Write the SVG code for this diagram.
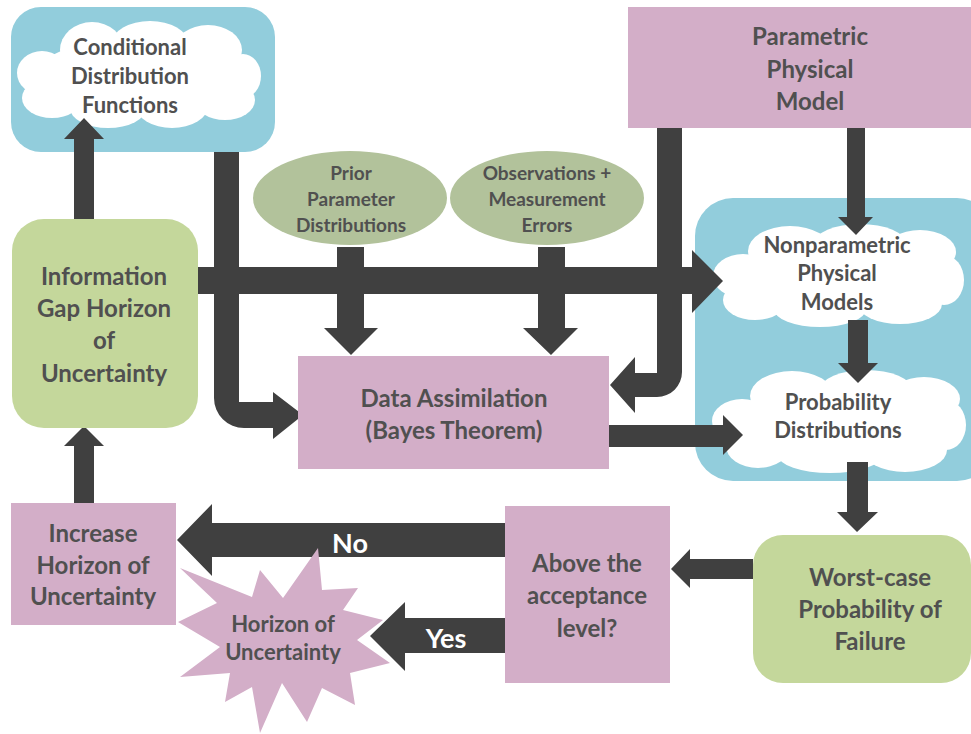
<svg xmlns="http://www.w3.org/2000/svg" width="971" height="734" viewBox="0 0 971 734">
<defs>
<style>
.t{font-family:Lato,"Liberation Sans",sans-serif;font-weight:bold;fill:#505050;text-anchor:middle}
.s24{font-size:24px}
.s22{font-size:22px}
.s19{font-size:19px}
.w{fill:#ffffff;font-size:27px}
.pink{fill:#d3aec8}
.green{fill:#c4d79b}
.blue{fill:#92cddc}
.oval{fill:#b2c29b}
.cloud ellipse{fill:#ffffff}
.conn path{fill:#404040}
</style>
</defs>
<rect width="971" height="734" fill="#ffffff"/>

<g id="cond-dist">
<rect class="blue" x="11" y="7" width="264" height="145" rx="30"/>
<g class="cloud">
<ellipse cx="140" cy="76" rx="105" ry="38"/>
<ellipse cx="92" cy="50" rx="32" ry="28"/>
<ellipse cx="150" cy="43" rx="38" ry="22"/>
<ellipse cx="208" cy="50" rx="34" ry="25"/>
<ellipse cx="243" cy="76" rx="18" ry="22"/>
<ellipse cx="42" cy="73" rx="25" ry="22"/>
<ellipse cx="52" cy="98" rx="30" ry="20"/>
<ellipse cx="108" cy="108" rx="38" ry="20"/>
<ellipse cx="172" cy="106" rx="36" ry="22"/>
<ellipse cx="225" cy="100" rx="30" ry="20"/>
</g>
<text class="t s22" x="130" y="55">Conditional</text>
<text class="t s22" x="130" y="84">Distribution</text>
<text class="t s22" x="130" y="113">Functions</text>
</g>

<g id="uncertainty-models">
<rect class="blue" x="695" y="198" width="300" height="283" rx="38"/>
<g id="nonparametric" class="cloud">
<ellipse cx="840" cy="277" rx="110" ry="35"/>
<ellipse cx="790" cy="251" rx="42" ry="25"/>
<ellipse cx="860" cy="244" rx="46" ry="20"/>
<ellipse cx="920" cy="252" rx="36" ry="22"/>
<ellipse cx="743" cy="276" rx="30" ry="22"/>
<ellipse cx="755" cy="300" rx="32" ry="20"/>
<ellipse cx="820" cy="309" rx="46" ry="18"/>
<ellipse cx="900" cy="304" rx="42" ry="20"/>
<ellipse cx="944" cy="280" rx="20" ry="25"/>
</g>
<g id="probability" class="cloud">
<ellipse cx="840" cy="423" rx="112" ry="35"/>
<ellipse cx="792" cy="396" rx="42" ry="25"/>
<ellipse cx="866" cy="390" rx="46" ry="20"/>
<ellipse cx="924" cy="399" rx="36" ry="22"/>
<ellipse cx="742" cy="421" rx="30" ry="22"/>
<ellipse cx="758" cy="446" rx="32" ry="22"/>
<ellipse cx="830" cy="455" rx="52" ry="18"/>
<ellipse cx="905" cy="450" rx="42" ry="22"/>
<ellipse cx="946" cy="425" rx="20" ry="25"/>
</g>
<text class="t s22" x="837" y="253">Nonparametric</text>
<text class="t s22" x="837" y="281">Physical</text>
<text class="t s22" x="837" y="310">Models</text>
<text class="t s22" x="838" y="410">Probability</text>
<text class="t s22" x="838" y="438">Distributions</text>
</g>

<g id="connectors" class="conn">
<path d="M74,220 L74,139 L64,139 L84,118 L104,139 L94,139 L94,220 Z"/>
<path d="M74,503 L74,446 L64,446 L84,426 L104,446 L94,446 L94,503 Z"/>
<path d="M214,152 L239,152 L239,402 L273,402 L273,392 L303,415 L273,439 L273,428 L244,428 A30,30 0 0 1 214,398 Z"/>
<path d="M197,267 L692,267 L692,250 L723,281 L692,313 L692,294 L197,294 Z"/>
<path d="M337,247 L364,247 L364,328 L378,328 L351,355 L324,328 L337,328 Z"/>
<path d="M538,247 L565,247 L565,328 L578,328 L551,355 L523,328 L538,328 Z"/>
<path d="M657,128 L682,128 L682,372 A25,25 0 0 1 657,397 L635,397 L635,413 L610,385 L635,357 L635,373 L657,373 Z"/>
<path d="M847,128 L865,128 L865,217 L873,217 L856,235 L838,217 L847,217 Z"/>
<path d="M848,320 L868,320 L868,363 L878,363 L858,383 L838,363 L848,363 Z"/>
<path d="M609,425 L723,425 L723,415 L743,435 L723,455 L723,447 L609,447 Z"/>
<path d="M847,462 L868,462 L868,512 L878,512 L857,532 L837,512 L847,512 Z"/>
<path d="M753,559 L690,559 L690,549 L671,569 L690,588 L690,579 L753,579 Z"/>
<path d="M505,523 L212,523 L212,504 L177,540 L212,576 L212,557 L505,557 Z"/>
<path d="M505,618 L405,618 L405,602 L370,636 L405,671 L405,653 L505,653 Z"/>
<text class="t w" x="350" y="553">No</text>
<text class="t w" x="446" y="648">Yes</text>
</g>

<g id="info-gap">
<rect class="green" x="12" y="219" width="186" height="209" rx="32"/>
<text class="t s24" x="104" y="285">Information</text>
<text class="t s24" x="104" y="317">Gap Horizon</text>
<text class="t s24" x="104" y="349">of</text>
<text class="t s24" x="104" y="382">Uncertainty</text>
</g>

<g id="prior">
<ellipse class="oval" cx="350" cy="198" rx="97" ry="47"/>
<text class="t s19" x="351" y="180">Prior</text>
<text class="t s19" x="351" y="206">Parameter</text>
<text class="t s19" x="351" y="232">Distributions</text>
</g>

<g id="observations">
<ellipse class="oval" cx="547" cy="198" rx="97" ry="47"/>
<text class="t s19" x="547" y="180">Observations +</text>
<text class="t s19" x="547" y="206">Measurement</text>
<text class="t s19" x="547" y="232">Errors</text>
</g>

<g id="parametric">
<rect class="pink" x="628" y="7" width="350" height="121"/>
<text class="t s24" x="810" y="45">Parametric</text>
<text class="t s24" x="810" y="78">Physical</text>
<text class="t s24" x="810" y="110">Model</text>
</g>

<g id="data-assimilation">
<rect class="pink" x="298" y="356" width="311" height="113"/>
<text class="t s24" x="454" y="407">Data Assimilation</text>
<text class="t s24" x="454" y="439">(Bayes Theorem)</text>
</g>

<g id="worst-case">
<rect class="green" x="753" y="535" width="218" height="148" rx="30"/>
<text class="t s24" x="870" y="586">Worst-case</text>
<text class="t s24" x="870" y="618">Probability of</text>
<text class="t s24" x="870" y="650">Failure</text>
</g>

<g id="above">
<rect class="pink" x="505" y="506" width="165" height="177"/>
<text class="t s24" x="587" y="572">Above the</text>
<text class="t s24" x="587" y="604">acceptance</text>
<text class="t s24" x="587" y="637">level?</text>
</g>

<g id="increase">
<rect class="pink" x="11" y="503" width="165" height="122"/>
<text class="t s24" x="93" y="542">Increase</text>
<text class="t s24" x="93" y="574">Horizon of</text>
<text class="t s24" x="93" y="605">Uncertainty</text>
</g>

<g id="horizon">
<polygon class="pink" points="318,548 322,590 358,588 343,610 383,620 357,640 390,663 350,673 355,705 322,688 307,722 282,683 260,733 252,687 225,702 230,673 180,677 220,647 178,622 217,603 180,568 252,597 260,570 283,598"/>
<text class="t s22" x="283" y="632">Horizon of</text>
<text class="t s22" x="283" y="660">Uncertainty</text>
</g>
</svg>
